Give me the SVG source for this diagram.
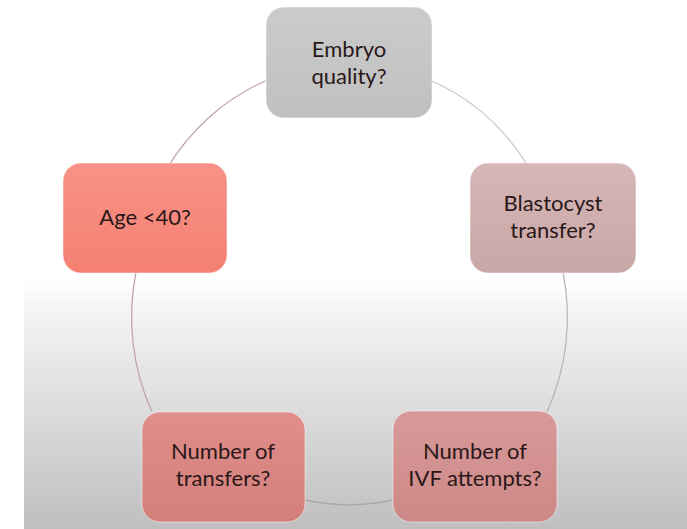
<svg xmlns="http://www.w3.org/2000/svg" width="687" height="529" viewBox="0 0 687 529">
<defs>
<linearGradient id="bg" x1="0" y1="0" x2="0" y2="1">
<stop offset="0" stop-color="#ffffff"/>
<stop offset="0.1" stop-color="#f5f5f5"/>
<stop offset="1" stop-color="#bfbfbf"/>
</linearGradient>
<linearGradient id="gGray" x1="0" y1="0" x2="0" y2="1"><stop offset="0" stop-color="#cbcbcb"/><stop offset="1" stop-color="#c0c0c0"/></linearGradient>
<linearGradient id="gAge" x1="0" y1="0" x2="0" y2="1"><stop offset="0" stop-color="#f89288"/><stop offset="1" stop-color="#f58072"/></linearGradient>
<linearGradient id="gBla" x1="0" y1="0" x2="0" y2="1"><stop offset="0" stop-color="#d6b6b6"/><stop offset="1" stop-color="#c9a7a6"/></linearGradient>
<linearGradient id="gTr" x1="0" y1="0" x2="0" y2="1"><stop offset="0" stop-color="#e08e8a"/><stop offset="1" stop-color="#d37f7b"/></linearGradient>
<linearGradient id="gIvf" x1="0" y1="0" x2="0" y2="1"><stop offset="0" stop-color="#d9999a"/><stop offset="1" stop-color="#cc8886"/></linearGradient>
</defs>
<style>
.box{stroke:#ffffff;stroke-opacity:0.5;stroke-width:1}
.t{font-family:"Lato","Open Sans",sans-serif;font-size:22px;fill:#2a1818;text-anchor:middle}
.c{fill:none;stroke-width:1.3}
</style>
<rect x="0" y="0" width="687" height="529" fill="#ffffff"/>
<rect x="24" y="282" width="663" height="247" fill="url(#bg)"/>
<g id="connectors">
<path class="c" stroke="#c3a4aa" d="M 270 79 A 214 223 0 0 0 166 170"/>
<path class="c" stroke="#c0a6ab" d="M 136 272 A 214 223 0 0 0 152 412"/>
<path class="c" stroke="#a9a9a9" d="M 305 500 A 214 223 0 0 0 393 500"/>
<path class="c" stroke="#b8b8b8" d="M 563 272 A 214 223 0 0 1 547 412"/>
<path class="c" stroke="#c9c9c9" d="M 432 81 A 214 223 0 0 1 526 163"/>
</g>
<g id="embryo">
<rect class="box" x="266" y="7" width="166" height="111" rx="18" fill="url(#gGray)"/>
<text class="t" x="349" y="57">Embryo</text>
<text class="t" x="349" y="84">quality?</text>
</g>
<g id="age">
<rect class="box" x="63" y="163" width="164" height="110" rx="18" fill="url(#gAge)"/>
<text class="t" x="145" y="225">Age &lt;40?</text>
</g>
<g id="blastocyst">
<rect class="box" x="470" y="163" width="166" height="110" rx="18" fill="url(#gBla)"/>
<text class="t" x="553" y="211">Blastocyst</text>
<text class="t" x="553" y="238">transfer?</text>
</g>
<g id="transfers">
<rect class="box" x="142" y="412" width="163" height="110" rx="18" fill="url(#gTr)"/>
<text class="t" x="223" y="459">Number of</text>
<text class="t" x="223" y="486">transfers?</text>
</g>
<g id="ivf">
<rect class="box" x="393" y="411" width="164" height="111" rx="18" fill="url(#gIvf)"/>
<text class="t" x="475" y="459">Number of</text>
<text class="t" x="475" y="486">IVF attempts?</text>
</g>
</svg>
